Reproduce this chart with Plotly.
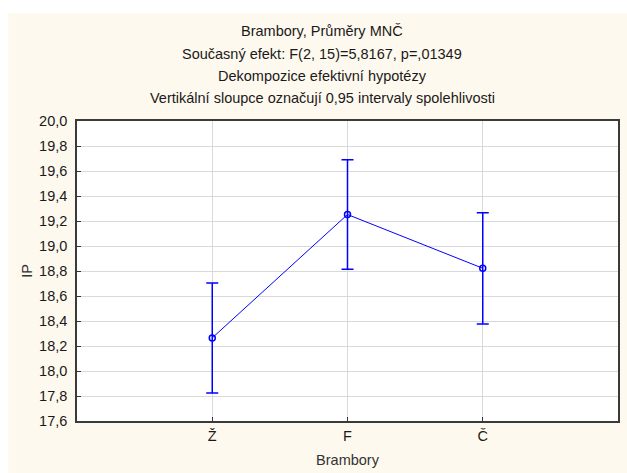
import plotly.graph_objects as go

categories = ["Ž", "F", "Č"]
means = [18.265, 19.252, 18.822]
ci_half = [0.44, 0.438, 0.445]
y_ticks = [17.6, 17.8, 18.0, 18.2, 18.4, 18.6, 18.8, 19.0, 19.2, 19.4, 19.6, 19.8, 20.0]
y_tick_labels = [f"{v:.1f}".replace(".", ",") for v in y_ticks]
title_lines = [
    "Brambory, Průměry MNČ",
    "Současný efekt: F(2, 15)=5,8167, p=,01349",
    "Dekompozice efektivní hypotézy",
    "Vertikální sloupce označují 0,95 intervaly spolehlivosti",
]

W, H = 627, 473
L, R, T, B = 77, 7, 121, 51
pw, ph = W - L - R, H - T - B

def px(x):
    return (x - L) / pw

def py(y):
    return (H - B - y) / ph

cream = "#FEF9EE"
font = "Liberation Sans, Arial, sans-serif"
fs = 14.5

fig = go.Figure()
fig.add_trace(go.Scatter(
    x=list(range(len(categories))), y=means,
    mode="lines+markers",
    line=dict(color="#0000FF", width=1),
    marker=dict(symbol="circle-open", size=6, color="#0000FF", line=dict(width=1.5)),
    error_y=dict(type="data", array=ci_half, visible=True, color="#0000FF",
                 thickness=1.5, width=6),
    showlegend=False,
))

annotations = []
for i, t in enumerate(title_lines):
    annotations.append(dict(
        text=t, x=px(323), y=py(31 + i * 22.4), xref="paper", yref="paper",
        showarrow=False, xanchor="center", yanchor="middle",
        font=dict(family=font, size=fs, color="#1a1a1a"),
    ))

fig.update_layout(
    width=W, height=H,
    margin=dict(l=L, r=R, t=T, b=B, pad=0),
    paper_bgcolor=cream,
    plot_bgcolor="white",
    font=dict(family=font, size=fs, color="#1a1a1a"),
    annotations=annotations,
    shapes=[
        dict(type="rect", xref="paper", yref="paper",
             x0=px(-5), x1=px(W + 5), y0=py(13), y1=py(-5),
             fillcolor="white", line=dict(width=0), layer="above"),
        dict(type="rect", xref="paper", yref="paper",
             x0=px(-5), x1=px(8), y0=py(H + 5), y1=py(-5),
             fillcolor="white", line=dict(width=0), layer="above"),
    ],
)

fig.update_xaxes(
    range=[-1, 3],
    tickmode="array", tickvals=list(range(len(categories))), ticktext=categories,
    ticks="inside", ticklen=4, tickcolor="#333333", tickwidth=1,
    showgrid=True, gridcolor="#d9d9d9", gridwidth=1,
    showline=True, linecolor="#3a3a3a", linewidth=1.5, mirror=True,
    zeroline=False,
    tickfont=dict(size=fs, color="#1a1a1a"),
    ticklabelstandoff=1,
    title=dict(text="Brambory", font=dict(size=fs, color="#333333"), standoff=12),
)
fig.update_yaxes(
    range=[17.6, 20.0],
    tickmode="array", tickvals=y_ticks, ticktext=y_tick_labels,
    ticks="inside", ticklen=4, tickcolor="#333333", tickwidth=1,
    showgrid=True, gridcolor="#d9d9d9", gridwidth=1,
    showline=True, linecolor="#3a3a3a", linewidth=1.5, mirror=True,
    zeroline=False,
    tickfont=dict(size=fs, color="#1a1a1a"),
    ticklabelstandoff=5,
    title=dict(text="IP", font=dict(size=fs, color="#333333"), standoff=3),
)

fig.write_html("out.html")
